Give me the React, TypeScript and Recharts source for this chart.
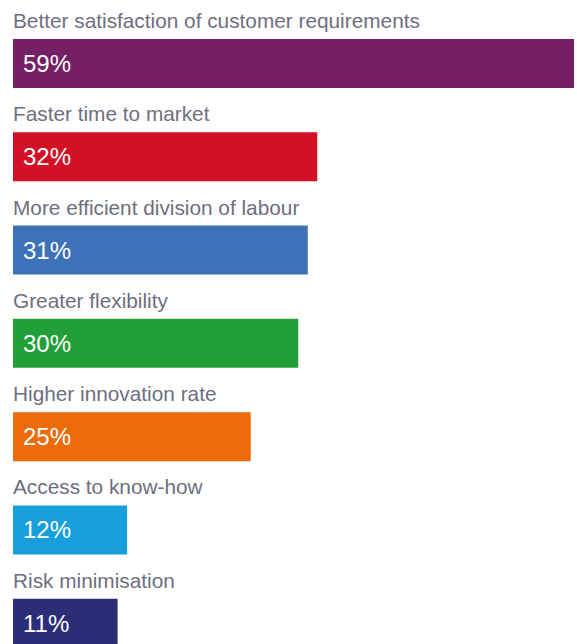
import { BarChart, Bar, XAxis, YAxis, Cell, LabelList } from "recharts";

const categories = [
  "Better satisfaction of customer requirements",
  "Faster time to market",
  "More efficient division of labour",
  "Greater flexibility",
  "Higher innovation rate",
  "Access to know-how",
  "Risk minimisation",
];

const shares = [59, 32, 31, 30, 25, 12, 11];

const palette = ["#741f66", "#d21026", "#3d72b8", "#21a03a", "#ec6c0a", "#169fdb", "#2c2d77"];

const rows = categories.map((name, i) => ({ name, value: shares[i] }));

const font = "'Liberation Sans', Arial, sans-serif";

function CategoryLabel(props: any) {
  const { x, y, value } = props;
  return (
    <text x={x} y={y - 11} fill="#6e6e80" fontSize={20.8} fontFamily={font}>
      {value}
    </text>
  );
}

function App() {
  return (
    <div style={{ position: "absolute", left: 0, top: 0, width: 577, height: 644, overflow: "hidden", background: "#fff" }}>
      <BarChart
        width={577}
        height={680}
        data={rows}
        layout="vertical"
        margin={{ top: 17, right: 3, bottom: 10, left: 13 }}
      >
        <XAxis type="number" domain={[0, 59]} hide />
        <YAxis type="category" dataKey="name" hide />
        <Bar dataKey="value" barSize={49} isAnimationActive={false}>
          {rows.map((r, i) => (
            <Cell key={r.name} fill={palette[i]} />
          ))}
          <LabelList dataKey="name" content={CategoryLabel} />
          <LabelList
            dataKey="value"
            position="insideLeft"
            offset={10}
            fill="#ffffff"
            fontSize={24}
            fontFamily={font}
            formatter={(v: any) => `${v}%`}
          />
        </Bar>
      </BarChart>
    </div>
  );
}

export default App;
